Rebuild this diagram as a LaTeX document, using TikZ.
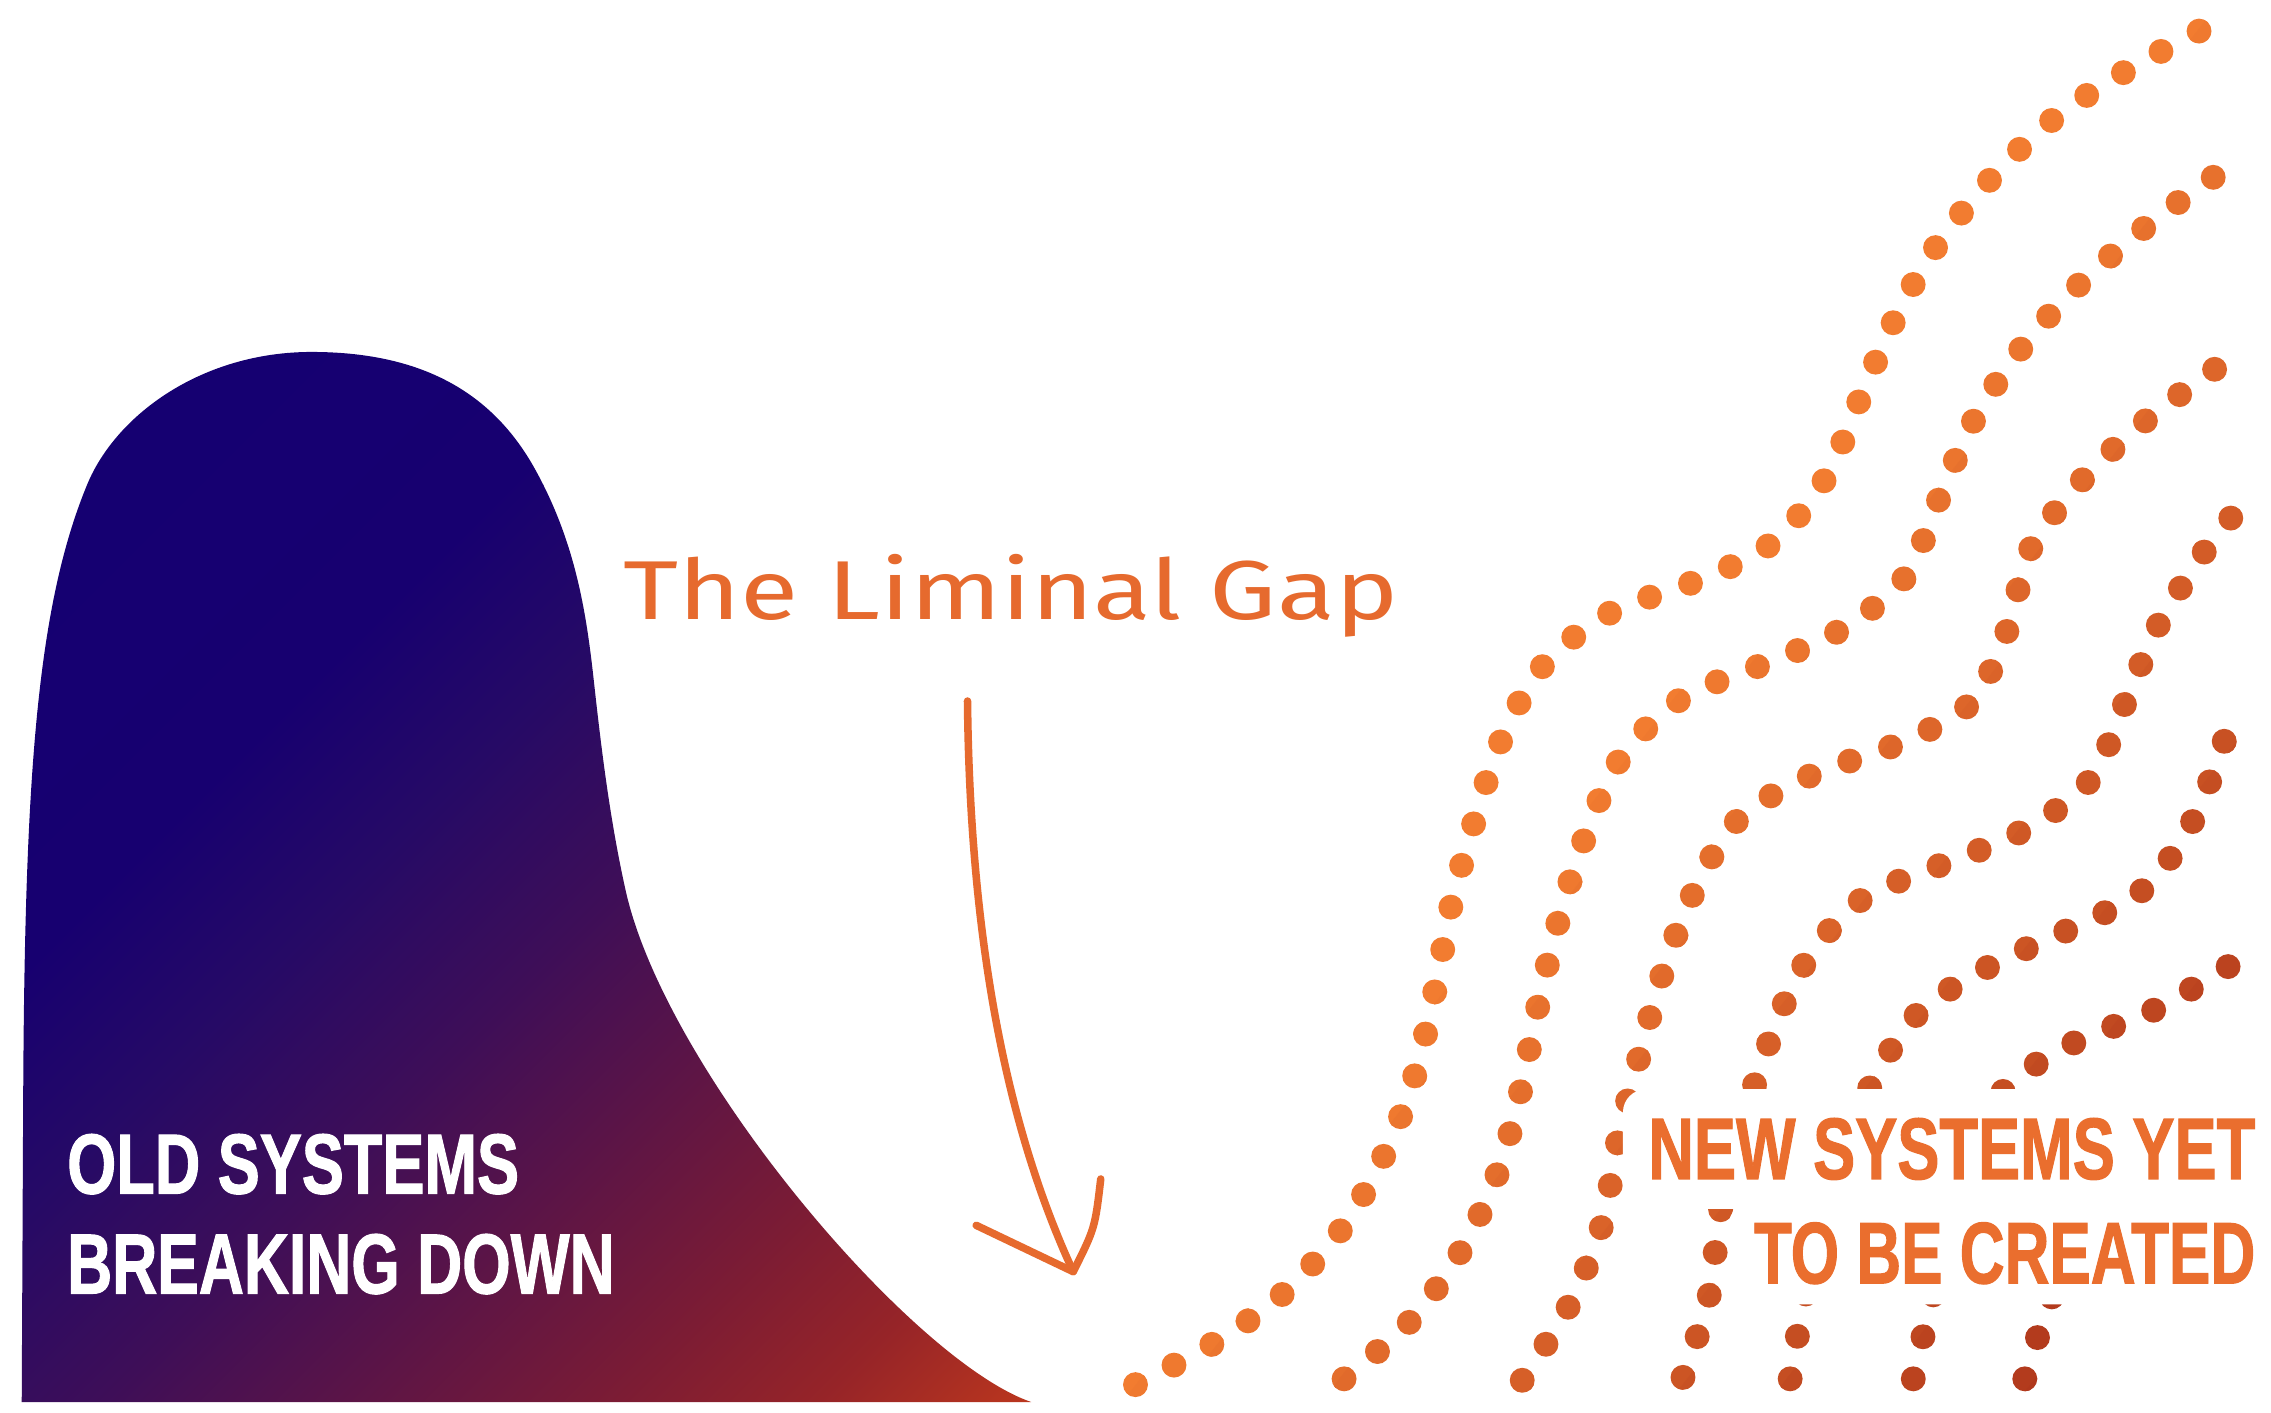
\documentclass[tikz,border=0pt]{standalone}
\usepackage{fontspec}
\usepackage{graphicx}
\setmainfont{Liberation Sans}[BoldFeatures={FakeBold=1.5}]
\newfontfamily\handfont{Fira Sans}

\definecolor{sA}{HTML}{140072}
\definecolor{sB}{HTML}{170070}
\definecolor{sC}{HTML}{260A66}
\definecolor{sD}{HTML}{3E0E58}
\definecolor{sE}{HTML}{5E1545}
\definecolor{sF}{HTML}{7C1C34}
\definecolor{sG}{HTML}{962428}
\definecolor{sH}{HTML}{BA361E}
\definecolor{dotlight}{HTML}{F27C30}
\definecolor{dotdark}{HTML}{B0381C}
\definecolor{neworange}{HTML}{EA6E2E}
\definecolor{handorange}{HTML}{E66A2E}

\pgfdeclarehorizontalshading{oldshade}{100bp}{color(0bp)=(sA); color(14.6bp)=(sA); color(35.8bp)=(sB); color(44.3bp)=(sC); color(53.5bp)=(sD); color(62.7bp)=(sE); color(71.2bp)=(sF); color(78.2bp)=(sG); color(85.4bp)=(sH); color(100bp)=(sH)}

\tikzset{
  dotline/.style={draw=stripcol, line width=8.6pt, line cap=round, dash pattern=on 0pt off 14.9pt},
  oldtext/.style={text=white, inner sep=0pt},
  newtext/.style={fill=white, text=neworange, inner xsep=8.75pt, inner ysep=10pt, rounded corners=8pt},
  handtext/.style={text=handorange, inner sep=0pt},
  handline/.style={draw=handorange, line width=2.6pt, line cap=round, line join=round}
}

\newcommand\dotpaths{%
  \draw[dotline] plot[smooth,tension=0.55] coordinates {(784,956) (837,928) (885,894) (926,849) (956,797) (977,742) (991,683) (1002,625) (1018,567) (1037,510) (1066,459) (1112,423) (1169,402) (1222,376) (1260,331) (1284,276) (1308,221) (1337,170) (1375,123) (1418,82) (1468,49) (1521,20) (1528,16)};
  \draw[dotline] plot[smooth,tension=0.55] coordinates {(928,952) (973,913) (1008,865) (1034,810) (1050,753) (1062,694) (1076,636) (1094,579) (1118,525) (1160,483) (1214,460) (1269,436) (1315,399) (1339,344) (1363,290) (1396,240) (1436,196) (1481,157) (1530,121) (1536,116)};
  \draw[dotline] plot[smooth,tension=0.55] coordinates {(1051,953) (1083,902) (1106,846) (1117,788) (1132,729) (1148,672) (1169,617) (1200,566) (1251,535) (1307,515) (1360,486) (1386,435) (1402,379) (1438,331) (1482,290) (1529,255) (1535,250)};
  \draw[dotline] plot[smooth,tension=0.55] coordinates {(1162,951) (1180,895) (1188,835) (1203,777) (1221,721) (1245,667) (1284,622) (1338,598) (1394,575) (1442,540) (1467,486) (1490,432) (1522,381) (1540,358) (1545,352)};
  \draw[dotline] plot[smooth,tension=0.55] coordinates {(1236,952) (1246,897) (1262,840) (1278,790) (1292,749) (1324,700) (1374,667) (1428,642) (1480,614) (1514,567) (1536,511) (1539,504)};
  \draw[dotline] plot[smooth,tension=0.55] coordinates {(1321,952) (1334,897) (1350,840) (1366,790) (1386,750) (1432,720) (1488,697) (1539,667) (1546,663)};
  \draw[dotline] plot[smooth,tension=0.55] coordinates {(1398,952) (1416,897) (1440,850) (1480,815) (1540,790)};
}

\begin{document}
\begin{tikzpicture}[x=0.5pt,y=-0.5pt]
\useasboundingbox (0,0) rectangle (1568,975);
\fill[white] (0,0) rectangle (1568,975);

% old systems curve
\shade[shading=oldshade,shading angle=-45]
  (15,968) -- (16,760)
  .. controls (17,540) and (25,420) .. (60,335)
  .. controls (80,286) and (140,243) .. (215,243)
  .. controls (290,243) and (340,270) .. (370,325)
  .. controls (398,376) and (405,425) .. (410,470)
  .. controls (416,525) and (422,570) .. (432,615)
  .. controls (460,740) and (630,940) .. (712,968)
  -- cycle;

% dotted lines with diagonal colour gradient
\foreach \k in {0,...,19}{
  \pgfmathsetmacro\ta{ifthenelse(\k==0,-3000,1180+27*\k)}
  \pgfmathsetmacro\tb{ifthenelse(\k==19,5000,1180+27*(\k+1)+2)}
  \pgfmathtruncatemacro\pct{round(100*\k/19)}
  \colorlet{stripcol}{dotdark!\pct!dotlight}
  \begin{scope}
    \clip ({\ta*0.787-3000*0.617},{\ta*0.617+3000*0.787}) -- ({\ta*0.787+3000*0.617},{\ta*0.617-3000*0.787}) -- ({\tb*0.787+3000*0.617},{\tb*0.617-3000*0.787}) -- ({\tb*0.787-3000*0.617},{\tb*0.617+3000*0.787}) -- cycle;
    \dotpaths
  \end{scope}
}

% texts
\node[oldtext, anchor=base west] (old1) at (46,824) {\resizebox{156pt}{20.5pt}{\bfseries OLD SYSTEMS}};
\node[oldtext, anchor=base west] (old2) at (46,893) {\resizebox{189pt}{20.5pt}{\bfseries BREAKING DOWN}};

\node[newtext, anchor=base east] (new1) at (1575,814) {\resizebox{209.5pt}{21pt}{\bfseries NEW SYSTEMS YET}};
\node[newtext, inner ysep=7pt, anchor=base east] (new2) at (1575,886) {\resizebox{173pt}{21pt}{\bfseries TO BE CREATED}};

\node[handtext, anchor=base west] (gaplabel) at (430,428) {\resizebox{267.5pt}{22.5pt}{\handfont The Liminal Gap}};

% arrow
\coordinate (gapstart) at (668,484);
\coordinate (gaptip) at (741,878);
\coordinate (armL) at (674,846);
\coordinate (armR) at (760,814);
\draw[handline] (gapstart) .. controls (670,680) and (705,800) .. (gaptip);
\draw[handline] (armL) -- (gaptip) .. controls (756,848) .. (armR);
\end{tikzpicture}
\end{document}
